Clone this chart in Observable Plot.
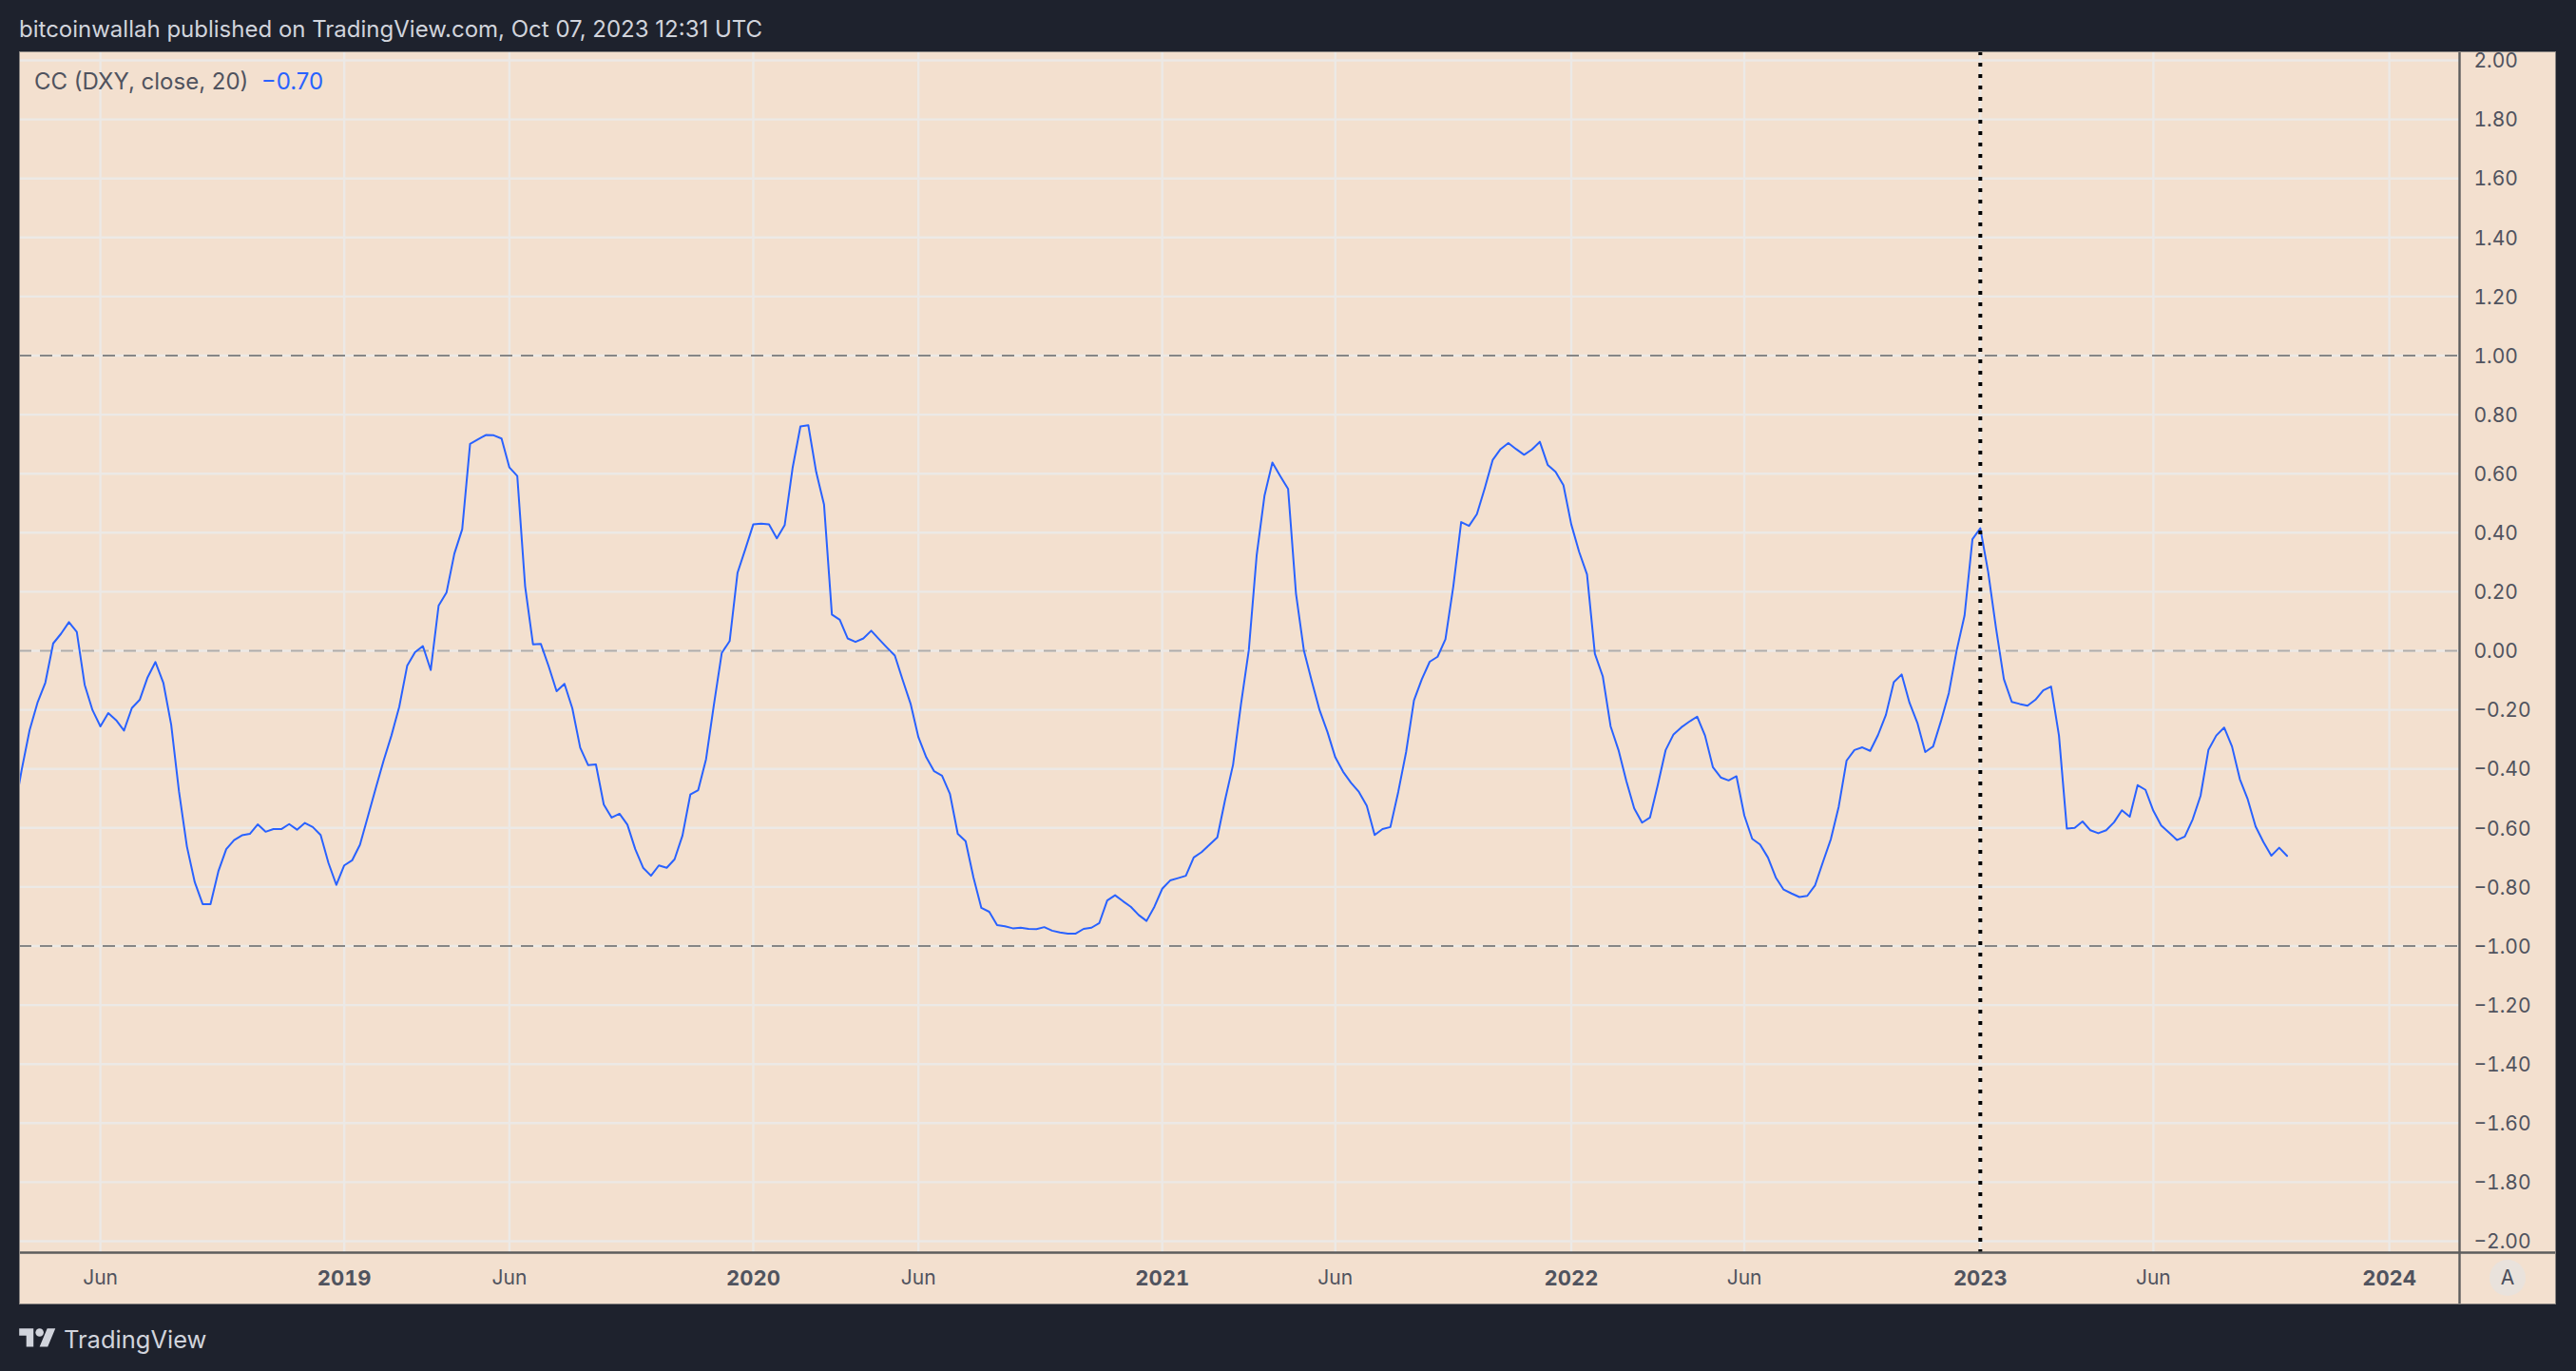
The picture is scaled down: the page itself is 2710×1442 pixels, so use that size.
<!DOCTYPE html>
<html><head><meta charset="utf-8">
<script src="https://cdn.jsdelivr.net/npm/d3@7"></script>
<script src="https://cdn.jsdelivr.net/npm/@observablehq/plot@0.6"></script>
<style>
html,body{margin:0;padding:0;background:#1e222d;width:2710px;height:1442px;overflow:hidden;font-family:Inter,sans-serif;}
#head{position:absolute;left:20px;top:0;height:54px;line-height:61px;font-size:24px;color:#d1d4dc;white-space:nowrap;}
#chart{position:absolute;left:20px;top:54px;width:2669px;height:1318px;}
#chart svg{display:block;outline:1px solid #8a8683;outline-offset:-1px;}
#legend{position:absolute;left:36px;top:70px;font-size:24px;line-height:32px;color:#50535e;white-space:pre;}
#legend span{color:#2962ff;}
#auto{position:absolute;left:2619px;top:1325px;width:38px;height:38px;border-radius:50%;background:#e9e2dc;color:#4a4d5a;font-size:21px;line-height:38px;text-align:center;}
#foot{position:absolute;left:20px;top:1390px;height:36px;display:flex;align-items:center;color:#d1d4dc;font-size:25.5px;}
#foot svg{width:39px;height:30px;margin-right:8px;fill:#d1d4dc;}
</style></head><body>
<div id="head">bitcoinwallah published on TradingView.com, Oct 07, 2023 12:31 UTC</div>
<div id="chart"></div>
<div id="legend">CC (DXY, close, 20)  <span>−0.70</span></div>
<div id="auto">A</div>
<div id="foot"><svg viewBox="0 0 36 28"><path d="M14 22H7V11H0V4h14v18zM28 22h-8l7.5-18h8L28 22z"/><circle cx="20" cy="8" r="4"/></svg>TradingView</div>
<script>
// Weekly correlation coefficient values, first bar on 2018-03-19
const firstWeek = new Date(Date.UTC(2018,2,19));
const ccValues = [
-0.552,-0.402,-0.269,-0.176,-0.108,0.025,0.058,0.097,0.064,-0.115,-0.201,-0.256,-0.211,-0.235,-0.270,-0.194,-0.166,-0.090,-0.038,-0.108,
-0.250,-0.478,-0.663,-0.784,-0.858,-0.858,-0.747,-0.672,-0.641,-0.625,-0.620,-0.588,-0.613,-0.604,-0.604,-0.587,-0.606,-0.583,-0.597,-0.624,
-0.719,-0.793,
-0.727,-0.710,-0.657,-0.562,-0.466,-0.373,-0.287,-0.189,-0.051,-0.005,0.016,-0.065,0.153,0.197,0.329,0.412,0.701,0.716,0.731,0.730,
0.719,0.621,0.592,0.218,0.022,0.023,-0.053,-0.137,-0.112,-0.195,-0.328,-0.387,-0.385,-0.521,-0.565,-0.552,-0.589,-0.672,-0.735,-0.762,
-0.727,-0.735,-0.706,-0.626,-0.487,-0.472,-0.367,-0.182,-0.007,0.033,0.264,0.345,0.428,0.431,0.428,0.381,0.426,0.619,0.760,0.764,
0.606,0.495,0.123,0.105,0.042,0.030,0.042,0.068,0.039,0.011,-0.016,-0.099,-0.179,-0.293,-0.361,-0.408,-0.423,-0.484,-0.620,-0.645,
-0.768,-0.871,-0.884,-0.929,-0.933,-0.940,-0.938,-0.942,-0.943,-0.936,-0.948,-0.954,-0.958,-0.958,-0.942,-0.938,-0.922,-0.846,-0.828,-0.848,
-0.867,-0.895,-0.915,-0.867,-0.806,-0.778,-0.770,-0.762,-0.700,-0.682,-0.657,-0.632,-0.503,-0.386,-0.182,0.002,0.323,0.526,0.638,0.592,
0.548,0.194,0.002,-0.102,-0.201,-0.275,-0.361,-0.410,-0.447,-0.478,-0.525,-0.624,-0.604,-0.597,-0.478,-0.343,-0.168,-0.096,-0.037,-0.020,
0.039,0.218,0.436,0.423,0.463,0.551,0.646,0.683,0.704,0.683,0.664,0.682,0.708,0.630,0.606,0.561,0.428,0.335,0.259,-0.010,
-0.086,-0.256,-0.336,-0.441,-0.534,-0.582,-0.565,-0.454,-0.336,-0.283,-0.259,-0.240,-0.223,-0.287,-0.394,-0.429,-0.439,-0.425,-0.558,-0.637,
-0.656,-0.700,-0.768,-0.809,-0.822,-0.834,-0.830,-0.794,-0.715,-0.638,-0.528,-0.372,-0.336,-0.327,-0.339,-0.285,-0.217,-0.106,-0.080,-0.176,
-0.244,-0.343,-0.324,-0.238,-0.143,0.002,0.120,0.378,0.415,0.267,0.076,-0.096,-0.173,-0.180,-0.186,-0.166,-0.134,-0.121,-0.287,-0.602,
-0.600,-0.578,-0.608,-0.618,-0.608,-0.581,-0.540,-0.562,-0.455,-0.471,-0.542,-0.592,-0.616,-0.641,-0.629,-0.571,-0.491,-0.336,-0.287,-0.260,
-0.324,-0.435,-0.503,-0.595,-0.648,-0.694,-0.667,-0.695
];
const weeks = ccValues.map((_, i) => d3.utcWeek.offset(firstWeek, i));
const yearTicks = ["2019-01-07","2020-01-06","2021-01-04","2022-01-03","2023-01-02","2024-01-01"].map(d => new Date(d));
const juneTicks = ["2018-06-04","2019-06-03","2020-06-01","2021-06-07","2022-06-06","2023-06-05"].map(d => new Date(d));
const yTicks = [-2,-1.8,-1.6,-1.4,-1.2,-1,-0.8,-0.6,-0.4,-0.2,0,0.2,0.4,0.6,0.8,1,1.2,1.4,1.6,1.8,2];
const boundLevels = [1,-1];
const zeroLevel = [0];
const marker = [new Date("2023-01-02")];
const xStart = new Date("2018-03-24T00:00Z"), xEnd = new Date("2024-03-03T12:00Z");
const yMin = -2.0386, yMax = 2.029;

const axisColor = "#5d5d5d", gridColor = "#ece9e6", textColor = "#50535e", fontFamily = "Inter,sans-serif";
const fmtY = d => d.toFixed(2).replace("-", "−");

const plot = Plot.plot({
  width: 2669, height: 1318,
  marginLeft: 0, marginRight: 102, marginTop: 0, marginBottom: 55,
  style: {background: "#f3e0cf", fontFamily, overflow: "visible"},
  x: {type: "utc", domain: [xStart, xEnd]},
  y: {domain: [yMin, yMax]},
  marks: [
    Plot.ruleY(yTicks, {stroke: gridColor, strokeWidth: 2.4}),
    Plot.ruleX([...yearTicks, ...juneTicks], {stroke: gridColor, strokeWidth: 2.4}),
    Plot.ruleY(boundLevels, {stroke: "#868686", strokeWidth: 2, strokeDasharray: "13,9"}),
    Plot.ruleY(zeroLevel, {stroke: "#b0aca8", strokeWidth: 2, strokeDasharray: "13,9"}),
    Plot.line(weeks.map((d, i) => ({d, v: ccValues[i]})), {x: "d", y: "v", stroke: "#2962ff", strokeWidth: 2, clip: true}),
    Plot.ruleX(marker, {stroke: "#000", strokeWidth: 4, strokeDasharray: "4,8"}),
    Plot.ruleY([yMin], {stroke: axisColor, strokeWidth: 2.4, insetRight: -102}),
    Plot.ruleX([xEnd], {stroke: axisColor, strokeWidth: 2.4, insetBottom: -55}),
    Plot.axisY(yTicks, {anchor: "right", tickSize: 0, tickPadding: 15, tickFormat: fmtY, fontSize: 21, fill: textColor, label: null, dy: 1}),
    Plot.axisX(yearTicks, {anchor: "bottom", tickSize: 0, tickPadding: 19, tickFormat: d3.utcFormat("%Y"), fontSize: 22, fontWeight: 700, fill: textColor, label: null}),
    Plot.axisX(juneTicks.filter(d => d > xStart), {anchor: "bottom", tickSize: 0, tickPadding: 19, tickFormat: d3.utcFormat("%b"), fontSize: 21, fill: textColor, label: null})
  ]
});
document.getElementById("chart").append(plot);
</script></body></html>
